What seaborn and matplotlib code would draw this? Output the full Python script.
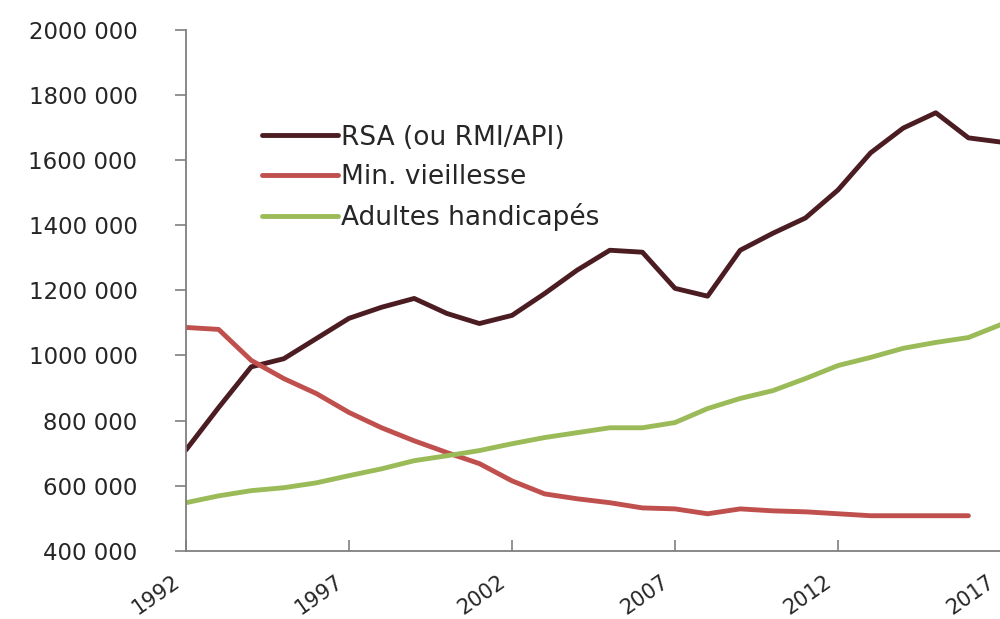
import matplotlib
matplotlib.use("Agg")
import matplotlib.pyplot as plt
import matplotlib.ticker as mticker
import matplotlib.transforms as mtransforms
import numpy as np
import pandas as pd
import seaborn as sns

years = list(range(1992, 2018))

rsa = [710000, 840000, 965000, 990000, 1052000, 1114000, 1148000, 1175000,
       1129000, 1098000, 1123000, 1190000, 1262000, 1323000, 1317000, 1206000,
       1182000, 1323000, 1375000, 1422000, 1508000, 1622000, 1698000, 1745000,
       1668000, 1655000]
min_vieillesse = [1086000, 1080000, 985000, 929000, 883000, 825000, 778000, 738000,
                  702000, 668000, 615000, 575000, 560000, 548000, 532000, 529000,
                  514000, 529000, 523000, 520000, 514000, 508000, 508000, 508000,
                  508000, np.nan]
handicapes = [548000, 569000, 585000, 594000, 609000, 631000, 652000, 677000,
              692000, 708000, 729000, 748000, 763000, 778000, 778000, 794000,
              837000, 868000, 892000, 929000, 969000, 994000, 1022000, 1040000,
              1055000, 1095000]

series_names = ["RSA (ou RMI/API)", "Min. vieillesse", "Adultes handicapés"]
colors = ["#4b1d22", "#c0504d", "#9bbb59"]

df = pd.DataFrame({
    "Année": years * 3,
    "Effectif": rsa + min_vieillesse + handicapes,
    "Série": [series_names[0]] * len(years) + [series_names[1]] * len(years)
             + [series_names[2]] * len(years),
})

sns.set_style("white")
plt.rcParams["font.family"] = ["DejaVu Sans"]

fig = plt.figure(figsize=(10, 6.19), dpi=100)
ax = fig.add_axes([0.186, 0.110, 0.815, 0.842])

sns.lineplot(data=df, x="Année", y="Effectif", hue="Série",
             palette=dict(zip(series_names, colors)), linewidth=3.5, ax=ax)

ax.set_xlim(1992, 2017)
ax.set_ylim(400000, 2000000)
ax.set_xticks(range(1992, 2018, 5))
ax.set_yticks(range(400000, 2000001, 200000))
# format "2000 000": only the last group of three digits is separated
ax.yaxis.set_major_formatter(mticker.FuncFormatter(
    lambda v, p: f"{int(v) // 1000} {int(v) % 1000:03d}"))
ax.set_xlabel("")
ax.set_ylabel("")

for s in ["top", "right"]:
    ax.spines[s].set_visible(False)
for s in ["left", "bottom"]:
    ax.spines[s].set_color("#7f7f7f")
    ax.spines[s].set_linewidth(1.3)

ax.tick_params(axis="y", direction="out", length=8, width=1.2, color="#7f7f7f",
               labelsize=16.5, pad=27, labelcolor="#262626", left=True)
ax.tick_params(axis="x", direction="in", length=8, width=1.2, color="#7f7f7f",
               labelsize=15, labelcolor="#262626", bottom=True, pad=15)
shift = mtransforms.ScaledTranslation(-10 / 72, 0, fig.dpi_scale_trans)
for lbl in ax.get_xticklabels():
    lbl.set_rotation(35)
    lbl.set_ha("right")
    lbl.set_rotation_mode("anchor")
    lbl.set_transform(lbl.get_transform() + shift)

leg = ax.legend(loc="upper left", bbox_to_anchor=(0.093, 0.818), frameon=False,
                fontsize=19, handlelength=2.9, handletextpad=0.1,
                labelspacing=0.5, borderpad=0, borderaxespad=0)
for line in leg.get_lines():
    line.set_linewidth(3.5)
for t in leg.get_texts():
    t.set_color("#262626")

fig.savefig("out.png", dpi=100)
